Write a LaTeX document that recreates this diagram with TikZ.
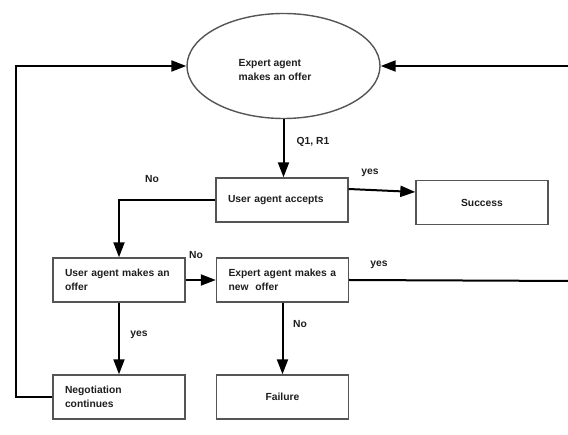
\documentclass[tikz,border=0pt]{standalone}
\usepackage{fontspec}
\setmainfont{Liberation Sans}
\usetikzlibrary{arrows.meta,shapes.geometric}
\definecolor{boxline}{HTML}{555555}
\definecolor{txt}{HTML}{1E1E1E}
\tikzset{
  every node/.style={font=\fontsize{10.3}{13.6}\selectfont\bfseries, text=txt},
  box/.style={draw=boxline, line width=1.4pt, minimum width=132pt, minimum height=44pt,
    text width=108pt, inner xsep=12pt, inner ysep=0pt},
  lbox/.style={box, align=left},
  cbox/.style={box, align=center},
  conn/.style={draw=black, line width=2pt},
  arr/.style={conn, -{Triangle[length=15pt,width=11pt]}},
  lab/.style={inner sep=0pt},
}
\begin{document}
\begin{tikzpicture}[x=1pt,y=-1pt]
\useasboundingbox (0,0) rectangle (568,435);
\node[ellipse, draw=boxline, line width=1.4pt, minimum width=193pt, minimum height=105pt, inner sep=0pt] (ell) at (283.5,66) {};
\node[align=left, inner sep=0pt] (ellt) at (275,70) {Expert agent\\makes an offer};
\node[lbox] (acc) at (282,200) {User agent accepts};
\node[cbox] (succ) at (482,202.5) {Success};
\node[lbox] (uoff) at (119,280) {User agent makes an\\offer};
\node[lbox] (enew) at (282.5,280) {Expert agent makes a\\new\ \ offer};
\node[lbox] (neg) at (119,397) {Negotiation\\continues};
\node[cbox] (fail) at (282.5,397) {Failure};

\coordinate (rtop) at (575,66);
\coordinate (rbot) at (575,281);
\coordinate (lcorner) at (16,397);
\coordinate (ltop) at (16,66);

\draw[arr] (ell.south) -- (ell.south |- acc.north);
\draw[arr] ([yshift=11pt]acc.east) -- ([yshift=10.5pt]succ.west);
\draw[arr] (acc.west) -| (uoff.north);
\draw[arr] (uoff.east) -- (enew.west);
\draw[arr] (uoff.south) -- (neg.north);
\draw[arr] (enew.south) -- (enew.south |- fail.north);
\draw[conn] (enew.east) -- (rbot) -- (rtop);
\draw[arr] (rtop) -- (ell.east);
\draw[arr] (neg.west) -- (lcorner) -- (ltop) -- (ell.west);

\node[lab] (lq) at (313,142) {Q1, R1};
\node[lab] (ly1) at (370,173) {yes};
\node[lab] (ln1) at (152,179) {No};
\node[lab] (ln2) at (196,255) {No};
\node[lab] (ly2) at (379,265) {yes};
\node[lab] (ly3) at (139,335) {yes};
\node[lab] (ln3) at (300,324) {No};
\end{tikzpicture}
\end{document}
